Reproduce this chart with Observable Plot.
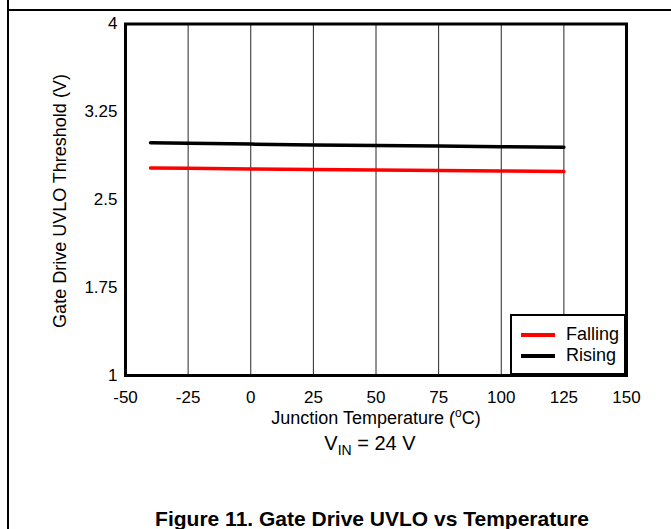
<!DOCTYPE html>
<html><head><meta charset="utf-8">
<script src="https://cdn.jsdelivr.net/npm/d3@7"></script>
<script src="https://cdn.jsdelivr.net/npm/@observablehq/plot@0.6"></script>
<style>
html,body{margin:0;padding:0;background:#fff;}
#wrap{position:relative;width:671px;height:529px;overflow:hidden;font-family:Arial,"Liberation Sans",sans-serif;color:#000;}
#chart{position:absolute;left:0;top:0;}
.lineL{position:absolute;left:7px;top:0;width:1.5px;height:529px;background:#000;}
.lineT{position:absolute;left:7px;top:9px;width:664px;height:1.5px;background:#000;}
.ylab{position:absolute;left:60px;top:201px;transform:translate(-50%,-50%) rotate(-90deg);font-size:18px;white-space:nowrap;}
.xlab{position:absolute;left:376px;top:418px;transform:translate(-50%,-50%);font-size:18px;white-space:nowrap;}
.xlab sup{font-size:12px;vertical-align:7px;line-height:0;}
.vin{position:absolute;left:370px;top:443px;transform:translate(-50%,-50%);font-size:20px;white-space:nowrap;}
.vin sub{font-size:14px;vertical-align:-5px;line-height:0;}
.caption{position:absolute;left:372px;top:507px;transform:translateX(-50%);font-size:21px;font-weight:bold;white-space:nowrap;}
.legend{position:absolute;left:510px;top:314px;width:112px;height:57px;border:2px solid #000;background:#fff;}
.legend .item{position:absolute;left:0;height:20px;width:112px;}
.legend .sw{position:absolute;left:9px;top:9px;width:34px;height:3.5px;}
.legend .tx{position:absolute;left:54px;top:0;font-size:18px;line-height:20px;}
</style></head><body>
<div id="wrap">
  <div id="chart"></div>
  <div class="ylab">Gate Drive UVLO Threshold (V)</div>
  <div class="xlab">Junction Temperature (<sup>o</sup>C)</div>
  <div class="vin">V<sub>IN</sub> = 24 V</div>
  <div class="caption">Figure 11. Gate Drive UVLO vs Temperature</div>
  <div class="legend" id="legend"></div>
  <div class="lineL"></div><div class="lineT"></div>
</div>
<script>
const temperature = [-40, -25, 0, 25, 50, 75, 100, 125];
const rising  = [2.986, 2.982, 2.975, 2.968, 2.963, 2.958, 2.953, 2.948];
const falling = [2.771, 2.768, 2.763, 2.758, 2.754, 2.750, 2.745, 2.741];
const seriesNames = ["Falling", "Rising"];
const seriesColors = ["#ff0000", "#000000"];
const xTicks = [-50, -25, 0, 25, 50, 75, 100, 125, 150];
const yTicks = [1, 1.75, 2.5, 3.25, 4];

const data = temperature.flatMap((t, i) => [
  {t, v: falling[i], s: "Falling"},
  {t, v: rising[i], s: "Rising"}
]);

const plot = Plot.plot({
  width: 671,
  height: 460,
  marginLeft: 125,
  marginRight: 45,
  marginTop: 23.5,
  marginBottom: 85,
  style: {fontFamily: "Arial, 'Liberation Sans', sans-serif", fontSize: "17px", color: "#000", background: "transparent", overflow: "visible"},
  x: {domain: [-50, 150], ticks: xTicks, label: null},
  y: {domain: [1, 4], ticks: yTicks, label: null},
  color: {domain: seriesNames, range: seriesColors},
  marks: [
    Plot.ruleX(xTicks.slice(1, -1), {stroke: "#000", strokeWidth: 1, strokeOpacity: 0.85}),
    Plot.line(data, {x: "t", y: "v", z: "s", stroke: "s", strokeWidth: 3.5}),
    Plot.axisX({ticks: xTicks, tickSize: 0, tickPadding: 15, fontSize: 17, label: null, tickFormat: d => String(d)}),
    Plot.axisY({ticks: yTicks, tickSize: 0, tickPadding: 8, fontSize: 17, label: null, tickFormat: d => String(d)}),
    Plot.frame({stroke: "#000", strokeWidth: 3})
  ]
});
document.getElementById("chart").appendChild(plot);

const legend = document.getElementById("legend");
seriesNames.forEach((name, i) => {
  const item = document.createElement("div");
  item.className = "item";
  item.style.top = (8 + i * 21) + "px";
  item.innerHTML = `<div class="sw" style="background:${seriesColors[i]}"></div><div class="tx">${name}</div>`;
  legend.appendChild(item);
});
</script>
</body></html>
